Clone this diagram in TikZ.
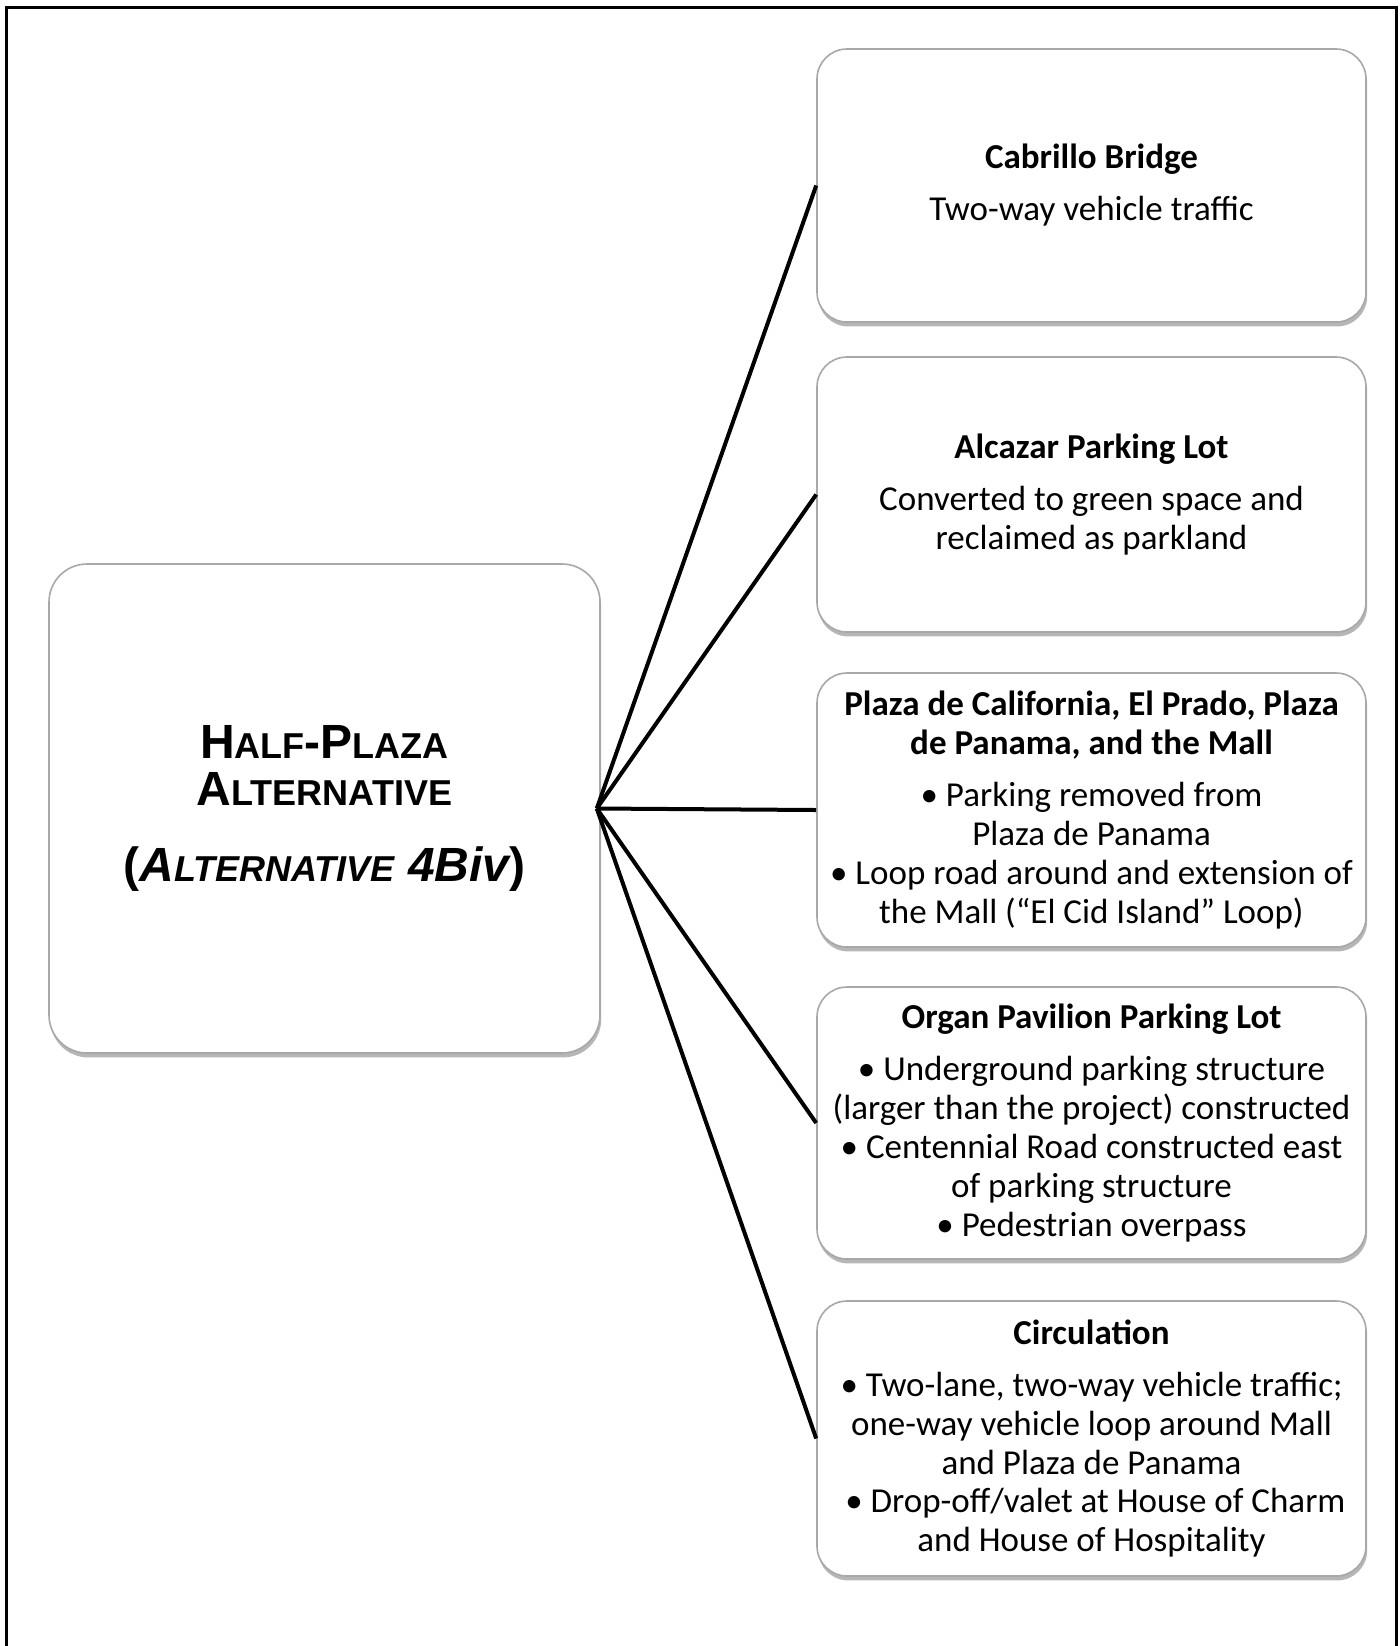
\documentclass[tikz,border=0pt]{standalone}
\usepackage{fontspec}
\setmainfont{Carlito}
\newfontfamily\titlefont{Liberation Sans}
\usetikzlibrary{shadows}
\definecolor{boxline}{HTML}{A8A8A8}
\definecolor{shadowgray}{HTML}{7A7A7A}
\newcommand{\tbig}{\fontsize{24pt}{23.5pt}\selectfont}
\newcommand{\tsmall}{\fontsize{18pt}{23.5pt}\selectfont}
\tikzset{
  panel/.style={draw=boxline, line width=0.8pt, fill=white, rounded corners=15pt,
    inner sep=0pt, align=center,
    drop shadow={shadow xshift=0.6pt, shadow yshift=-2.2pt, fill=shadowgray, opacity=0.55},
    font=\fontsize{17.5pt}{19.4pt}\selectfont},
  mainpanel/.style={panel, rounded corners=19pt, font=\titlefont\bfseries\tbig},
  link/.style={line width=2pt, black},
  frameline/.style={line width=1.5pt, black}
}
\begin{document}
\begin{tikzpicture}[x=0.5pt,y=-0.5pt]
\useasboundingbox (0,0) rectangle (1400,1646);
\draw[frameline] (6,1646) -- (6,7) -- (1396,7) -- (1396,1646);

\node[mainpanel, minimum width=275.5pt, minimum height=244.5pt] (L) at (324.5,808.5)
 {H{\tsmall ALF}-P{\tsmall LAZA}\\ A{\tsmall LTERNATIVE}\\[14.5pt]
  ({\itshape A{\tsmall LTERNATIVE} 4Biv})};

\node[panel, minimum width=274.5pt, minimum height=136.5pt] (B1) at (1091.5,185.5)
 {\textbf{Cabrillo Bridge}\\[6.6pt] Two-way vehicle traffic};

\node[panel, minimum width=274.5pt, minimum height=137.5pt] (B2) at (1091.5,494.5)
 {\textbf{Alcazar Parking Lot}\\[6.6pt] Converted to green space and\\ reclaimed as parkland};

\node[panel, minimum width=274.5pt, minimum height=137pt] (B3) at (1091.5,810)
 {\textbf{Plaza de California, El Prado, Plaza}\\ \textbf{de Panama, and the Mall}\\[6.6pt]
  • Parking removed from\\ Plaza de Panama\\
  • Loop road around and extension of\\ the Mall (“El Cid Island” Loop)};

\node[panel, minimum width=274.5pt, minimum height=136pt] (B4) at (1091.5,1123)
 {\textbf{Organ Pavilion Parking Lot}\\[6.6pt]
  • Underground parking structure\\ (larger than the project) constructed\\
  • Centennial Road constructed east\\ of parking structure\\
  • Pedestrian overpass};

\node[panel, minimum width=274.5pt, minimum height=137.5pt] (B5) at (1091.5,1438.5)
 {\textbf{Circulation}\\[6.6pt]
  • Two-lane, two-way vehicle traffic;\\ one-way vehicle loop around Mall\\ and Plaza de Panama\\
  \ • Drop-off/valet at House of Charm\\ and House of Hospitality};

\coordinate (hub) at ([xshift=-2pt]L.east);
\foreach \b in {B1,B2,B3,B4,B5}
  \draw[link] (hub) -- (\b.west);
\end{tikzpicture}
\end{document}
